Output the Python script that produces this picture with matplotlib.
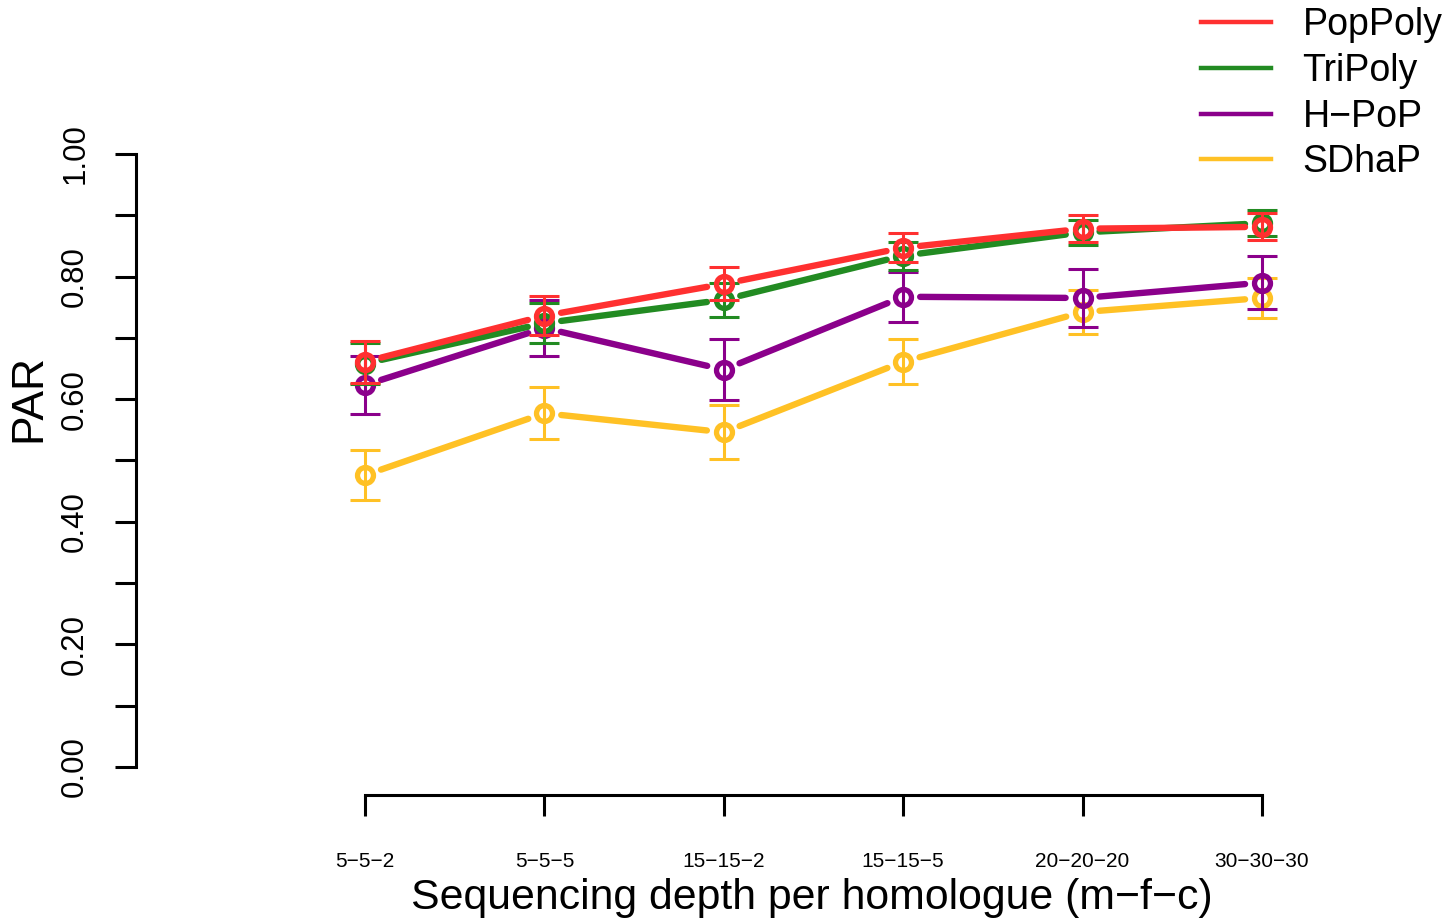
import numpy as np
import matplotlib
matplotlib.use("Agg")
import matplotlib.pyplot as plt
from matplotlib.ticker import MultipleLocator

plt.rcParams['font.family'] = ['Liberation Sans', 'DejaVu Sans']

categories = ["5\u22125\u22122", "5\u22125\u22125", "15\u221215\u22122", "15\u221215\u22125", "20\u221220\u221220", "30\u221230\u221230"]
series_names = ["PopPoly", "TriPoly", "H\u2212PoP", "SDhaP"]
colors = ["#FF3030", "#228B22", "#8B008B", "#FFC125"]

poppoly = [0.661, 0.736, 0.788, 0.847, 0.878, 0.881]
poppoly_err = [0.034, 0.032, 0.027, 0.024, 0.022, 0.022]
tripoly = [0.658, 0.724, 0.762, 0.834, 0.872, 0.887]
tripoly_err = [0.033, 0.033, 0.028, 0.023, 0.020, 0.021]
hpop = [0.623, 0.716, 0.648, 0.767, 0.765, 0.790]
hpop_err = [0.048, 0.045, 0.050, 0.041, 0.047, 0.043]
sdhap = [0.476, 0.577, 0.546, 0.661, 0.742, 0.765]
sdhap_err = [0.041, 0.042, 0.044, 0.037, 0.036, 0.033]

values = [poppoly, tripoly, hpop, sdhap]
errors = [poppoly_err, tripoly_err, hpop_err, sdhap_err]

W, H = 1446, 923
fig = plt.figure(figsize=(W / 100, H / 100), dpi=100)
ax = fig.add_axes([136 / W, 1 - 795 / H, (1290 - 136) / W, (795 - 130) / H])
x = np.arange(len(categories))
ax.set_xlim(-1.276, 5.156)
ax.set_ylim(-0.0457, 1.039)

fig.canvas.draw()
gap = 17.0  # pixels


def gapped_segments(xs, ys):
    pts = ax.transData.transform(np.column_stack([xs, ys]))
    segs = []
    for i in range(len(pts) - 1):
        p0, p1 = pts[i], pts[i + 1]
        d = p1 - p0
        L = np.hypot(*d)
        u = d / L
        a = p0 + u * gap
        b = p1 - u * gap
        segs.append(ax.transData.inverted().transform(np.array([a, b])))
    return segs

order = [3, 2, 1, 0]
for k in order:
    c = colors[k]
    z = 2 + (3 - k)
    for seg in gapped_segments(x, values[k]):
        ax.plot(seg[:, 0], seg[:, 1], color=c, lw=4.6, solid_capstyle='round', zorder=z)
    ax.errorbar(x, values[k], yerr=errors[k], fmt='none', ecolor=c, elinewidth=2.2,
                capsize=10.5, capthick=2.2, zorder=z)
    ax.plot(x, values[k], linestyle='none', marker='o', markersize=11.5, markerfacecolor='none',
            markeredgecolor=c, markeredgewidth=3.8, zorder=z)

# legend handles
handles = [plt.Line2D([], [], color=c, lw=3.2) for c in colors]
fig.legend(handles, series_names, loc='upper left', bbox_to_anchor=(1190 / W, 1 + 4 / H),
           frameon=False, fontsize=27, handlelength=1.85, handletextpad=0.85,
           labelspacing=0.26, borderaxespad=0, borderpad=0.3)

for s in ['top', 'right']:
    ax.spines[s].set_visible(False)
ax.spines['left'].set_bounds(0, 1)
ax.spines['bottom'].set_bounds(0, 5)
ax.spines['left'].set_linewidth(2.2)
ax.spines['bottom'].set_linewidth(2.2)

ax.set_yticks(np.arange(0, 1.01, 0.2))
ax.set_yticklabels(["0.00", "0.20", "0.40", "0.60", "0.80", "1.00"], rotation=90, va='center', fontsize=22.5)
ax.yaxis.set_minor_locator(MultipleLocator(0.1))
ax.tick_params(axis='y', which='both', length=15, width=2.2, pad=18)
ax.tick_params(axis='y', which='minor', labelleft=False)

ax.set_xticks(x)
ax.set_xticklabels(categories, fontsize=15)
ax.tick_params(axis='x', length=15, width=2.2, pad=26)

ax.set_ylabel("PAR", fontsize=32, ha='center', va='center')
ax.yaxis.set_label_coords((29 - 136) / 1154, (795 - 398) / 665)
ax.set_xlabel("Sequencing depth per homologue (m\u2212f\u2212c)", fontsize=30.8, va='center')
ax.xaxis.set_label_coords((812 - 136) / 1154, (795 - 898) / 665)

fig.savefig("out.png", dpi=100)
